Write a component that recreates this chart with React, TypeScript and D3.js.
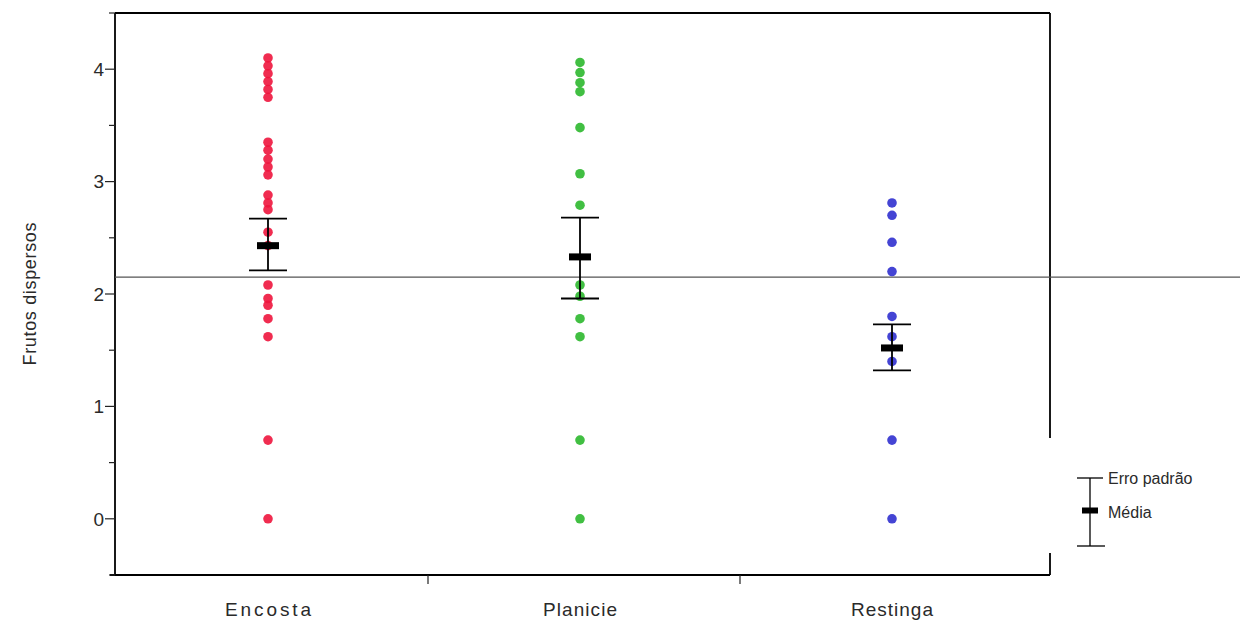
import React from "react";
import * as d3 from "d3";

const categories = ["Encosta", "Planicie", "Restinga"];
const colors = ["#ee153d", "#2cb82e", "#3030cf"];

const encostaValues = [4.1, 4.03, 3.96, 3.89, 3.82, 3.75, 3.35, 3.28, 3.2, 3.13, 3.06, 2.88, 2.81, 2.75, 2.55, 2.43, 2.08, 1.96, 1.9, 1.78, 1.62, 0.7, 0];
const planicieValues = [4.06, 3.97, 3.88, 3.8, 3.48, 3.07, 2.79, 2.08, 1.98, 1.78, 1.62, 0.7, 0];
const restingaValues = [2.81, 2.7, 2.46, 2.2, 1.8, 1.62, 1.4, 0.7, 0];

const means = [2.43, 2.33, 1.52];
const seUpper = [2.67, 2.68, 1.73];
const seLower = [2.21, 1.96, 1.32];
const grandMean = 2.15;

const yTicks = [0, 1, 2, 3, 4];
const yMinorTicks = [-0.5, 0.5, 1.5, 2.5, 3.5, 4.5];
const yLabel = "Frutos dispersos";
const legendLabels = ["Erro padrão", "Média"];
const categoryLabelWidths = [86, 74, 82];

const seriesValues = [encostaValues, planicieValues, restingaValues];

export default function App() {
  const left = 115;
  const right = 1050;
  const top = 13;
  const bottom = 575;
  const x = d3.scaleBand<string>().domain(categories).range([116, 1052]);
  const y = d3.scaleLinear().domain([-0.5, 4.5]).range([bottom, top]);
  const cx = (c: string) => (x(c) as number) + x.bandwidth() / 2 - 4;
  const font = "'Liberation Sans', Arial, sans-serif";
  const textColor = "#2a2a2a";

  return (
    <svg width={1240} height={621} style={{ position: "absolute", left: 0, top: 0, background: "#fff" }}>
      <rect x={0} y={0} width={1240} height={621} fill="#fff" />
      {/* frame */}
      <line x1={left} x2={right} y1={top} y2={top} stroke="#000" strokeWidth={1.8} />
      <line x1={right} x2={right} y1={top} y2={bottom} stroke="#000" strokeWidth={1.8} />
      <line x1={left} x2={left} y1={top} y2={bottom} stroke="#000" strokeWidth={1.8} />
      <line x1={left - 5} x2={right} y1={bottom} y2={bottom} stroke="#000" strokeWidth={1.8} />
      {/* y ticks */}
      {yTicks.map((t) => (
        <g key={"t" + t}>
          <line x1={left - 10} x2={left} y1={y(t)} y2={y(t)} stroke="#222" strokeWidth={1.2} />
          <text x={left - 11} y={y(t)} dy="0.36em" textAnchor="end" fontFamily={font} fontSize={19} fill={textColor}>
            {t}
          </text>
        </g>
      ))}
      {yMinorTicks.map((t) => (
        <line key={"m" + t} x1={left - 6} x2={left} y1={y(t)} y2={y(t)} stroke="#222" strokeWidth={1.2} />
      ))}
      <text
        transform={`translate(${30},${y(2)}) rotate(-90)`}
        textAnchor="middle"
        dy="0.35em"
        fontFamily={font}
        fontSize={18}
        fill={textColor}
        textLength={143}
        lengthAdjust="spacing"
      >
        {yLabel}
      </text>
      {/* x separators and labels */}
      {categories.slice(1).map((c) => (
        <line key={"s" + c} x1={x(c) as number} x2={x(c) as number} y1={bottom} y2={bottom + 9} stroke="#222" strokeWidth={1.2} />
      ))}
      {categories.map((c, i) => (
        <text
          key={"l" + c}
          x={cx(c)}
          y={bottom + 41}
          textAnchor="middle"
          fontFamily={font}
          fontSize={19}
          fill={textColor}
          textLength={categoryLabelWidths[i]}
          lengthAdjust="spacing"
        >
          {c}
        </text>
      ))}
      {/* grand mean line */}
      <line x1={left} x2={1240} y1={y(grandMean)} y2={y(grandMean)} stroke="#555" strokeWidth={1.2} />
      {/* points */}
      {categories.map((c, i) =>
        seriesValues[i].map((v, j) => (
          <circle key={c + j} cx={cx(c)} cy={y(v)} r={4.8} fill={colors[i]} opacity={0.9} />
        ))
      )}
      {/* SE bars and means */}
      {categories.map((c, i) => (
        <g key={"se" + c}>
          <line x1={cx(c)} x2={cx(c)} y1={y(seUpper[i])} y2={y(seLower[i])} stroke="#000" strokeWidth={1.8} />
          <line x1={cx(c) - 19} x2={cx(c) + 19} y1={y(seUpper[i])} y2={y(seUpper[i])} stroke="#000" strokeWidth={1.8} />
          <line x1={cx(c) - 19} x2={cx(c) + 19} y1={y(seLower[i])} y2={y(seLower[i])} stroke="#000" strokeWidth={1.8} />
          <rect x={cx(c) - 11} y={y(means[i]) - 3.5} width={22} height={7} fill="#000" />
        </g>
      ))}
      {/* legend */}
      <rect x={1047} y={438} width={193} height={115} fill="#fff" />
      <line x1={1090} x2={1090} y1={478} y2={546} stroke="#000" strokeWidth={1.3} />
      <line x1={1077} x2={1103} y1={478} y2={478} stroke="#000" strokeWidth={1.3} />
      <line x1={1077} x2={1105} y1={546} y2={546} stroke="#000" strokeWidth={1.3} />
      <rect x={1082} y={507.5} width={16} height={6} fill="#000" />
      <text x={1108} y={478} dy="0.35em" fontFamily={font} fontSize={16} fill={textColor}>
        {legendLabels[0]}
      </text>
      <text x={1108} y={512} dy="0.35em" fontFamily={font} fontSize={16} fill={textColor}>
        {legendLabels[1]}
      </text>
    </svg>
  );
}
